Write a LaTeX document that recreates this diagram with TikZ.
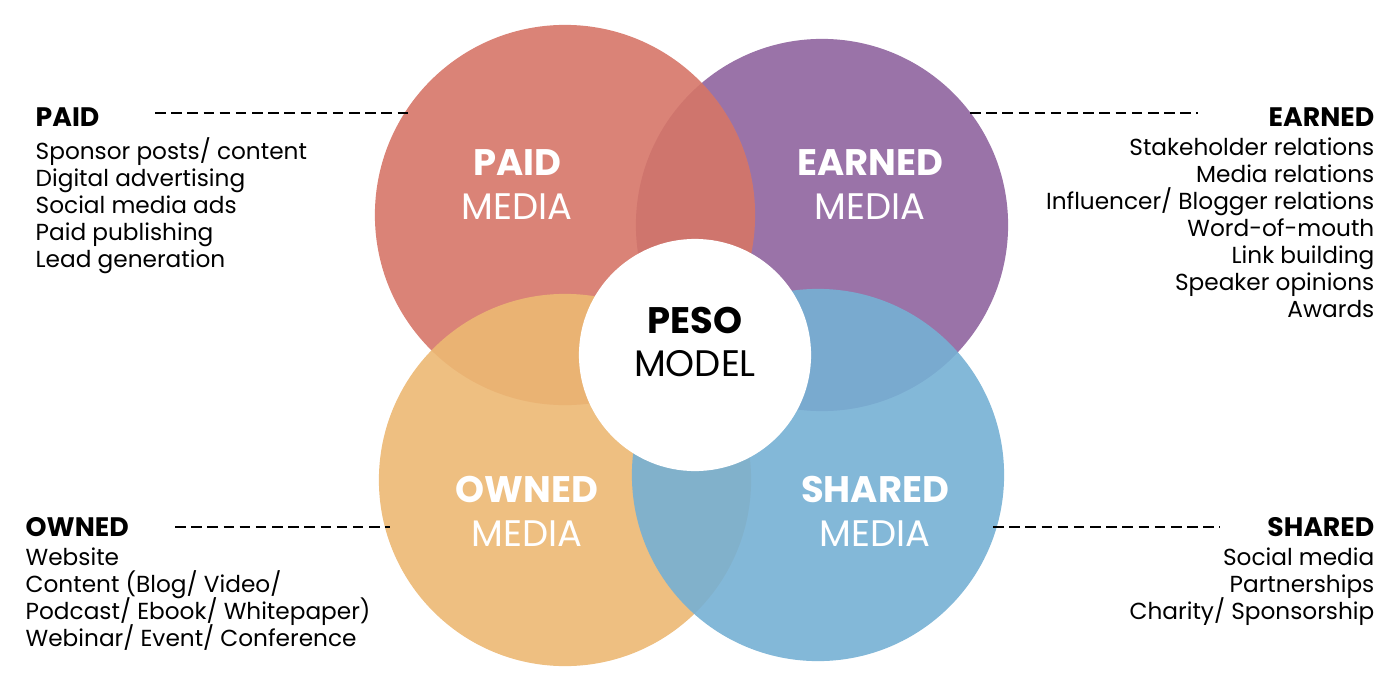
\documentclass[tikz,border=0pt]{standalone}
\usepackage{fontspec}
\setmainfont{Poppins}
\definecolor{paidred}{RGB}{214, 118, 104}
\definecolor{earnedpurple}{RGB}{143, 100, 158}
\definecolor{ownedorange}{RGB}{236, 184, 115}
\definecolor{sharedblue}{RGB}{118, 176, 212}
\newcommand{\tightlines}{\lineskiplimit=-10pt\relax}
\tikzset{
  media/.style={circle, minimum size=3.72cm, inner sep=0pt, fill opacity=0.9},
  biglabel/.style={text=white, align=center, font=\fontsize{10.5}{12.5}\selectfont, text opacity=1},
  listhead/.style={inner sep=0pt, font=\fontsize{7.6}{8}\selectfont\bfseries},
  listtext/.style={inner sep=0pt, font=\fontsize{6.6}{7.7}\selectfont\tightlines},
  leader/.style={dashed, thick, dash pattern=on 3pt off 1.6pt}
}
\begin{document}
\begin{tikzpicture}[x=0.01cm, y=-0.01cm]
\useasboundingbox (0,0) rectangle (1400,700);
% Circles
\node[media, fill=earnedpurple] (earned) at (822,225) {};
\node[media, minimum size=3.8cm, fill=paidred] (paid) at (565,215) {};
\node[media, fill=ownedorange] (owned) at (565,480) {};
\node[media, fill=sharedblue] (shared) at (818,475) {};
\node[circle, fill=white, minimum size=2.32cm] (peso) at (695,355) {};
% Circle labels
\node[biglabel] at (517,185) {\textbf{PAID}\\MEDIA};
\node[biglabel] at (870,185) {\textbf{EARNED}\\MEDIA};
\node[biglabel] at (527,511) {\textbf{OWNED}\\MEDIA};
\node[biglabel] at (875,511) {\textbf{SHARED}\\MEDIA};
\node[align=center, font=\fontsize{10.5}{12.5}\selectfont] at (695,342) {\textbf{PESO}\\MODEL};
% Lists
\node[listhead, anchor=west] (paidhead) at (35,117) {PAID};
\node[listtext, anchor=north west, align=left] at (35,137) {Sponsor posts/ content\\Digital advertising\\Social media ads\\Paid publishing\\Lead generation};
\node[listhead, anchor=east] (earnedhead) at (1375,117) {EARNED};
\node[listtext, anchor=north east, align=right] at (1375,137) {Stakeholder relations\\Media relations\\Influencer/ Blogger relations\\Word-of-mouth\\Link building\\Speaker opinions\\Awards};
\node[listhead, anchor=west] (ownedhead) at (25,527) {OWNED};
\node[listtext, anchor=north west, align=left] at (25,547) {Website\\Content (Blog/ Video/\\Podcast/ Ebook/ Whitepaper)\\Webinar/ Event/ Conference};
\node[listhead, anchor=east] (sharedhead) at (1375,527) {SHARED};
\node[listtext, anchor=north east, align=right] at (1375,547) {Social media\\Partnerships\\Charity/ Sponsorship};
% Leaders
\coordinate (paidend) at (408,113);
\coordinate (earnedend) at (970,113);
\coordinate (ownedend) at (390,527);
\coordinate (sharedend) at (993,527);
\draw[leader] (155,113) -- (paidend);
\draw[leader] (earnedend) -- (1198,113);
\draw[leader] (175,527) -- (ownedend);
\draw[leader] (sharedend) -- (1220,527);
\end{tikzpicture}
\end{document}
